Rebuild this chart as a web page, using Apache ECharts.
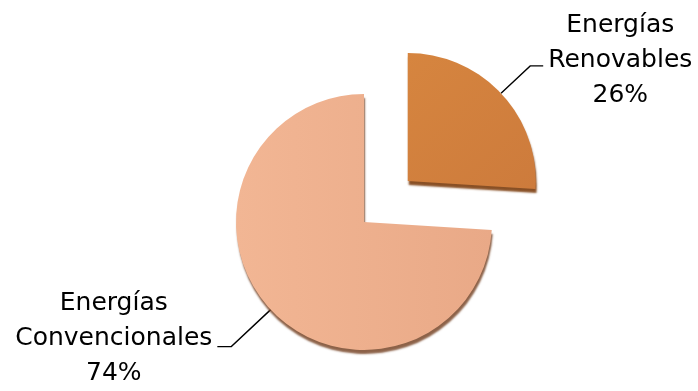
<!DOCTYPE html>
<html>
<head>
<meta charset="utf-8">
<script src="https://cdn.jsdelivr.net/npm/echarts@6/dist/echarts.min.js"></script>
<style>
html,body{margin:0;padding:0;background:#fff;}
#chart{width:698px;height:391px;}
</style>
</head>
<body>
<div id="chart"></div>
<script>
const categories = ['Energías\nRenovables', 'Energías\nConvencionales'];
const values = [26, 74];
const exploded = [true, false];

const colors = [
  new echarts.graphic.LinearGradient(0, 0, 1, 1, [
    {offset: 0, color: '#d6853f'}, {offset: 1, color: '#cd7b3c'}
  ]),
  new echarts.graphic.LinearGradient(0, 0, 1, 0, [
    {offset: 0, color: '#f2b694'}, {offset: 1, color: '#e9a987'}
  ])
];
const shadowColors = ['rgba(130,70,25,0.95)', 'rgba(120,70,40,0.85)'];
const lineLens = [[40, 13], [54, 14]];
const labelPads = [[0, 0, 10, 0], [0, 0, 16, 0]];

const chart = echarts.init(document.getElementById('chart'), null, {renderer: 'canvas'});
const data = categories.map((name, i) => ({
  name: name,
  value: values[i],
  selected: exploded[i],
  itemStyle: {
    color: colors[i],
    shadowColor: shadowColors[i],
    shadowBlur: 2,
    shadowOffsetX: 1,
    shadowOffsetY: 4
  },
  label: {padding: labelPads[i]},
  labelLine: {length: lineLens[i][0], length2: lineLens[i][1]}
}));

chart.setOption({
  animation: false,
  series: [{
    type: 'pie',
    center: [364, 222],
    radius: 128,
    startAngle: 90,
    clockwise: true,
    selectedMode: 'single',
    selectedOffset: 60,
    avoidLabelOverlap: false,
    emphasis: {disabled: true},
    data: data,
    label: {
      show: true,
      position: 'outside',
      formatter: function (p) {
        const lines = p.name.split('\n').concat([Math.round(p.percent) + '%']);
        return lines.map(l => '{a|' + l + '}').join('\n');
      },
      rich: {
        a: {
          fontFamily: 'DejaVu Sans',
          fontSize: 25,
          lineHeight: 35,
          color: '#000',
          align: 'center'
        }
      }
    },
    labelLine: {
      show: true,
      smooth: false,
      lineStyle: {color: '#000', width: 1.4}
    }
  }]
});
</script>
</body>
</html>
